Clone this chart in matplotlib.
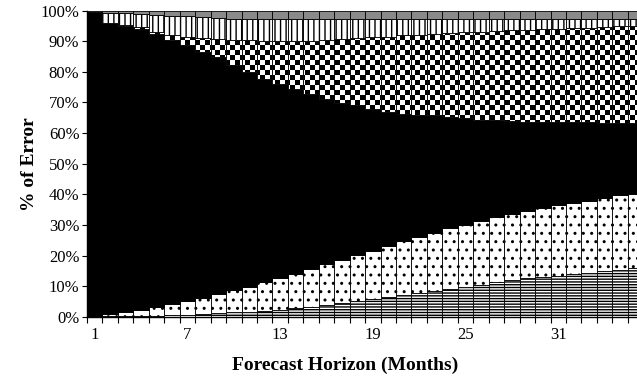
import warnings
import numpy as np
import matplotlib
matplotlib.use("Agg")
import matplotlib.pyplot as plt
import matplotlib.hatch as mhatch
from matplotlib.path import Path
from matplotlib.ticker import FixedLocator, PercentFormatter

warnings.filterwarnings("ignore")

# ---------------- data (percent of error per component) ----------------
months = list(range(1, 37))
tick_labels = ["1", "7", "13", "19", "25", "31"]

hlines = [0, 0.2, 0.3, 0.4, 0.5, 0.6, 0.8, 1.0, 1.2, 1.5, 1.8, 2.1, 2.4, 2.8, 3.4, 4.0,
          4.6, 5.2, 5.9, 6.5, 7.1, 7.7, 8.5, 9.1, 9.8, 10.6, 11.3, 12.0, 12.6, 13.1,
          13.5, 14.1, 14.5, 15.0, 15.5, 16.1]
dotted = [0, 0.8, 1.2, 1.9, 2.7, 3.6, 4.4, 5.3, 6.2, 7.3, 8.1, 9.3, 10.4, 11.3, 12.2,
          13.3, 14.1, 15.0, 15.8, 16.8, 17.6, 18.5, 19.0, 19.8, 20.3, 20.7, 21.2, 21.5,
          21.9, 22.4, 22.9, 23.2, 23.5, 23.8, 24.2, 24.1]
solid = [99.6, 94.9, 93.5, 91.7, 89.2, 86.3, 83.4, 80.1, 77.4, 73.3, 70.0, 66.3, 63.3,
         60.4, 57.3, 53.9, 51.1, 48.9, 46.3, 43.6, 41.7, 39.8, 38.3, 36.3, 34.9, 33.1,
         31.7, 30.4, 29.3, 28.2, 27.2, 26.2, 25.5, 24.6, 23.7, 23.2]
checker = [0, 0, 0.3, 0.6, 0.5, 1.6, 2.7, 4.7, 6.0, 8.3, 10.5, 12.5, 13.9, 15.5, 17.3,
           19.2, 21.0, 21.9, 23.3, 24.6, 25.5, 26.1, 26.6, 27.5, 27.9, 28.7, 29.1, 29.6,
           29.9, 30.2, 30.4, 30.7, 30.9, 31.2, 31.4, 31.6]
vstripes = [0, 3.3, 3.8, 4.3, 5.7, 6.2, 6.8, 6.7, 6.8, 7.0, 7.0, 7.2, 7.4, 7.4, 7.2, 7.0,
            6.6, 6.4, 6.1, 5.9, 5.5, 5.3, 5.0, 4.7, 4.5, 4.3, 4.1, 3.9, 3.7, 3.5, 3.4,
            3.2, 3.0, 2.8, 2.6, 2.4]
gray = [0.4, 0.8, 0.9, 1.1, 1.4, 1.7, 1.9, 2.2, 2.4, 2.6, 2.6, 2.6, 2.6, 2.6, 2.6, 2.6,
        2.6, 2.6, 2.6, 2.6, 2.6, 2.6, 2.6, 2.6, 2.6, 2.6, 2.6, 2.6, 2.6, 2.6, 2.6, 2.6,
        2.6, 2.6, 2.6, 2.6]


# ---------------- custom checkerboard hatch (filled squares, pixel aligned) ----------------
class CheckerHatch(mhatch.HatchPatternBase):
    def __init__(self, hatch, density):
        self.n = 20 if "c" in hatch else 0
        self.num_vertices = (self.n * self.n // 2) * 5

    def set_vertices_and_codes(self, vertices, codes):
        n = self.n
        s = 1.0 / n
        inset = 0.0069  # half of the hatch stroke width, in tile units
        k = 0
        for i in range(n):
            for j in range(n):
                if (i + j) % 2 == 0:
                    x0, y0 = i * s + inset, j * s + inset
                    x1, y1 = (i + 1) * s - inset, (j + 1) * s - inset
                    vertices[k:k + 5] = [[x0, y0], [x1, y0], [x1, y1], [x0, y1], [x0, y0]]
                    codes[k:k + 5] = [Path.MOVETO, Path.LINETO, Path.LINETO,
                                      Path.LINETO, Path.CLOSEPOLY]
                    k += 5


mhatch._hatch_types.append(CheckerHatch)

plt.rcParams["font.family"] = ["Liberation Serif", "DejaVu Serif"]
plt.rcParams["hatch.linewidth"] = 1.0

fig = plt.figure(figsize=(6.37, 3.82), dpi=100)
ax = fig.add_axes([0.1366, 0.170, 0.8732, 0.8024])

layers = [
    (hlines, "white", "------"),
    (dotted, "white", ".."),
    (solid, "black", None),
    (checker, "white", "c"),
    (vstripes, "white", "|||"),
    (gray, "#8a8a8a", None),
]

bottom = np.zeros(len(months))
for vals, fc, hatch in layers:
    v = np.array(vals, dtype=float)
    bars = ax.bar(months, v, bottom=bottom, width=1.0, color=fc,
                  edgecolor="black", linewidth=0.6, zorder=2)
    if hatch:
        for b in bars:
            b.set_hatch(hatch)
    bottom = bottom + v

ax.set_xlim(0.5, 36.5)
ax.set_ylim(0, 100)

ax.set_yticks(np.arange(0, 101, 10))
ax.yaxis.set_major_formatter(PercentFormatter(decimals=0))
ax.tick_params(axis="y", direction="out", length=3.5, width=0.8, pad=2, labelsize=12)

ax.xaxis.set_major_locator(FixedLocator([int(t) for t in tick_labels]))
ax.set_xticklabels(tick_labels)
ax.xaxis.set_minor_locator(FixedLocator(np.arange(0.5, 37, 1.0)))
ax.tick_params(axis="x", which="major", length=0, pad=7, labelsize=12)
ax.tick_params(axis="x", which="minor", direction="out", length=4, width=0.8)

for side in ("top", "right"):
    ax.spines[side].set_visible(False)
ax.spines["left"].set_linewidth(1.0)
ax.spines["bottom"].set_linewidth(1.0)
ax.spines["left"].set_zorder(5)
ax.spines["bottom"].set_zorder(5)

ax.set_xlabel("Forecast Horizon (Months)", fontsize=14, fontweight="bold")
ax.xaxis.set_label_coords(0.464, -0.13)
ax.set_ylabel("% of Error", fontsize=14, fontweight="bold")
ax.yaxis.set_label_coords(-0.088, 0.5)

fig.savefig("out.png", dpi=100)
